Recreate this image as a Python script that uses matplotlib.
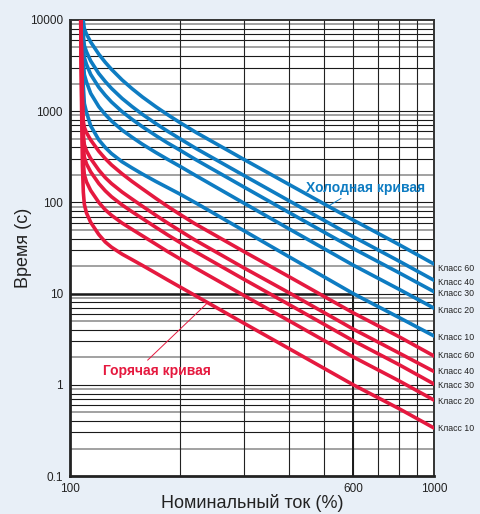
import matplotlib.pyplot as plt
import numpy as np
from matplotlib import font_manager

# readings: current in % of nominal, time in s
classes = [60, 40, 30, 20, 10]

cold_x = {
    60: [108.7, 109.5, 111, 114, 120, 125, 130, 139, 148, 158, 172, 185, 200, 222, 300, 400, 600, 800, 1000],
    40: [108.5, 109.0, 109.5, 111, 114, 120, 125, 130, 139, 148, 158, 172, 185, 200, 222, 300, 400, 600, 800, 1000],
    30: [108.4, 108.9, 109.5, 111, 114, 120, 125, 130, 139, 148, 158, 172, 185, 200, 222, 300, 400, 600, 800, 1000],
    20: [108.3, 108.8, 109.5, 111, 114, 120, 125, 130, 139, 148, 158, 172, 185, 200, 222, 300, 400, 600, 800, 1000],
    10: [108.2, 108.7, 109.5, 111, 114, 120, 125, 130, 139, 148, 158, 172, 185, 200, 222, 300, 400, 600, 800, 1000],
}
cold_t = {
    60: [10000, 8030, 7008, 5734, 4216, 3436, 2880, 2204, 1770, 1435, 1122, 921, 755, 585, 297, 157, 64, 34.6, 21.1],
    40: [10000, 6300, 5245, 4486, 3552, 2585, 2116, 1780, 1381, 1126, 925, 733, 607, 502, 390, 198, 104, 42.1, 22.8, 14.0],
    30: [10000, 4900, 3870, 3260, 2529, 1828, 1496, 1262, 990, 815, 677, 541, 451, 376, 293, 148, 77.4, 31.2, 17.0, 10.5],
    20: [10000, 3500, 2525, 2089, 1567, 1121, 920, 782, 621, 519, 435, 353, 298, 250, 196, 98.5, 51.2, 20.5, 11.2, 6.93],
    10: [10000, 2000, 1217, 973, 691, 485, 400, 343, 279, 239, 205, 170, 146, 124, 98.3, 49.1, 25.3, 10.0, 5.49, 3.43],
}

hot_x = {
    60: [107.2, 107.7, 108.1, 108.6, 109.0, 109.5, 111, 114, 120, 125, 130, 139, 148, 158, 172, 185, 200, 220, 300, 400, 600, 800, 1000],
    40: [107.15, 107.8, 108.5, 109.0, 109.5, 111, 114, 120, 125, 130, 139, 148, 158, 172, 185, 200, 220, 300, 400, 600, 800, 1000],
    30: [107.1, 107.7, 108.4, 108.9, 109.5, 111, 114, 120, 125, 130, 139, 148, 158, 172, 185, 200, 220, 300, 400, 600, 800, 1000],
    20: [107.05, 107.6, 108.3, 108.9, 109.5, 111, 114, 120, 125, 130, 139, 148, 158, 172, 185, 200, 220, 300, 400, 600, 800, 1000],
    10: [107.0, 107.5, 108.2, 108.8, 109.5, 111, 114, 120, 125, 130, 139, 148, 158, 172, 185, 200, 220, 300, 400, 600, 800, 1000],
}
hot_t = {
    60: [10000, 3000, 1400, 850, 740, 667, 582, 483, 364, 302, 258, 206, 170, 141, 111, 91, 74.4, 58.6, 29, 15.3, 6.15, 3.38, 2.07],
    40: [10000, 3000, 750, 520, 430, 368, 302, 226, 187, 161, 130, 109, 91, 72.4, 59.8, 49.2, 38.9, 19.2, 10.2, 4.08, 2.24, 1.40],
    30: [10000, 2500, 600, 400, 314, 265, 216, 161, 134, 115.5, 93.9, 79.1, 66.7, 53.4, 44.3, 36.6, 29.1, 14.4, 7.58, 3.04, 1.67, 1.02],
    20: [10000, 2000, 450, 260, 202, 168, 135, 100, 83, 72.3, 59.4, 50.7, 43.1, 34.9, 29.1, 24.2, 19.3, 9.57, 5.03, 2.02, 1.11, 0.68],
    10: [10000, 1500, 250, 130, 95.3, 76.6, 60.4, 44.4, 36.8, 32.3, 27.1, 23.6, 20.4, 16.8, 14.2, 11.9, 9.6, 4.75, 2.49, 1.0, 0.55, 0.336],
}

x_ticks = [100, 600, 1000]
y_ticks = [0.1, 1, 10, 100, 1000, 10000]
y_ticklabels = ['0.1', '1', '10', '100', '1000', '10000']

BLUE = '#0e7cc2'
RED = '#e5193f'
BG = '#e8eff7'

names = {f.name for f in font_manager.fontManager.ttflist}
regular = 'Liberation Sans' if 'Liberation Sans' in names else 'DejaVu Sans'
narrow = 'Liberation Sans Narrow' if 'Liberation Sans Narrow' in names else regular

fig = plt.figure(figsize=(4.8, 5.14), dpi=100, facecolor=BG)
ax = fig.add_axes([0.1458, 0.0739, 0.7584, 0.8872])
ax.set_facecolor('white')
ax.set_xscale('log')
ax.set_yscale('log')
ax.set_xlim(100, 1000)
ax.set_ylim(0.1, 10000)

# horizontal grid, mixed black / grey like the original print
grey_steps = {2, 5, 9}
for dec in [0.1, 1, 10, 100, 1000]:
    for m in range(1, 10):
        v = dec * m
        if v <= 0.1:
            continue
        if m in grey_steps:
            ax.axhline(v, color='#9a9a9a', lw=1.3, zorder=1)
        else:
            ax.axhline(v, color='#1a1a1a', lw=0.8, zorder=1)
for v in range(200, 1000, 100):
    ax.axvline(v, color='#222222', lw=0.8, zorder=1)

# class 10 trip point marker lines
ax.hlines(10, 100, 600, color='#1a1a1a', lw=1.8, zorder=1.5)
ax.vlines(600, 0.1, 10, color='#1a1a1a', lw=1.4, zorder=1.5)

for c in classes:
    ax.plot(cold_x[c], cold_t[c], color=BLUE, lw=2.6, solid_joinstyle='round', zorder=3)
for c in classes:
    ax.plot(hot_x[c], hot_t[c], color=RED, lw=2.6, solid_joinstyle='round', zorder=4)

# class labels on the right
cold_dy = [-3.5, -1.5, -1.5, -1.5, -0.8]
hot_dy = [0, 0, -1.2, -1.2, 0]
for c, dy in zip(classes, cold_dy):
    ax.annotate(f'Класс {c}', xy=(1000, cold_t[c][-1]), xytext=(3, dy),
                textcoords='offset points', va='center', ha='left',
                fontsize=6.3, family=narrow, color='#222222', annotation_clip=False)
for c, dy in zip(classes, hot_dy):
    ax.annotate(f'Класс {c}', xy=(1000, hot_t[c][-1]), xytext=(3, dy),
                textcoords='offset points', va='center', ha='left',
                fontsize=6.3, family=narrow, color='#222222', annotation_clip=False)


def on_curve(xs, ts, x):
    return 10 ** np.interp(np.log10(x), np.log10(xs), np.log10(ts))


cx = 512
ax.annotate('Холодная кривая', xy=(cx, on_curve(cold_x[60], cold_t[60], cx)),
            xytext=(650, 144), ha='center', va='center', fontsize=10,
            fontweight='bold', family=narrow, color=BLUE, zorder=5,
            arrowprops=dict(arrowstyle='-', color=BLUE, lw=0.7,
                            shrinkA=1, shrinkB=0, relpos=(0.34, 0.0)))
hx = 239
ax.annotate('Горячая кривая', xy=(hx, on_curve(hot_x[10], hot_t[10], hx)),
            xytext=(173, 1.42), ha='center', va='center', fontsize=10,
            fontweight='bold', family=narrow, color=RED, zorder=5,
            arrowprops=dict(arrowstyle='-', color=RED, lw=0.7,
                            shrinkA=1, shrinkB=0, relpos=(0.38, 1.0)))

ax.set_xticks(x_ticks)
ax.set_xticklabels([str(v) for v in x_ticks])
ax.set_yticks(y_ticks)
ax.set_yticklabels(y_ticklabels)
ax.minorticks_off()
ax.tick_params(length=0, pad=5, labelsize=8.5, colors='#222222')
for lab in ax.get_xticklabels() + ax.get_yticklabels():
    lab.set_family(narrow)

for side in ['left', 'bottom']:
    ax.spines[side].set_linewidth(2)
    ax.spines[side].set_color('#222222')
for side in ['top', 'right']:
    ax.spines[side].set_linewidth(1.4)
    ax.spines[side].set_color('#333333')

ax.set_ylabel('Время (с)', fontsize=13, family=regular, color='#222222')
ax.yaxis.set_label_coords(-0.104, 0.5)
ax.set_xlabel('Номинальный ток (%)', fontsize=13, family=regular, color='#222222')
ax.xaxis.set_label_coords(0.5, -0.04)

fig.savefig('out.png', dpi=100, facecolor=BG)
